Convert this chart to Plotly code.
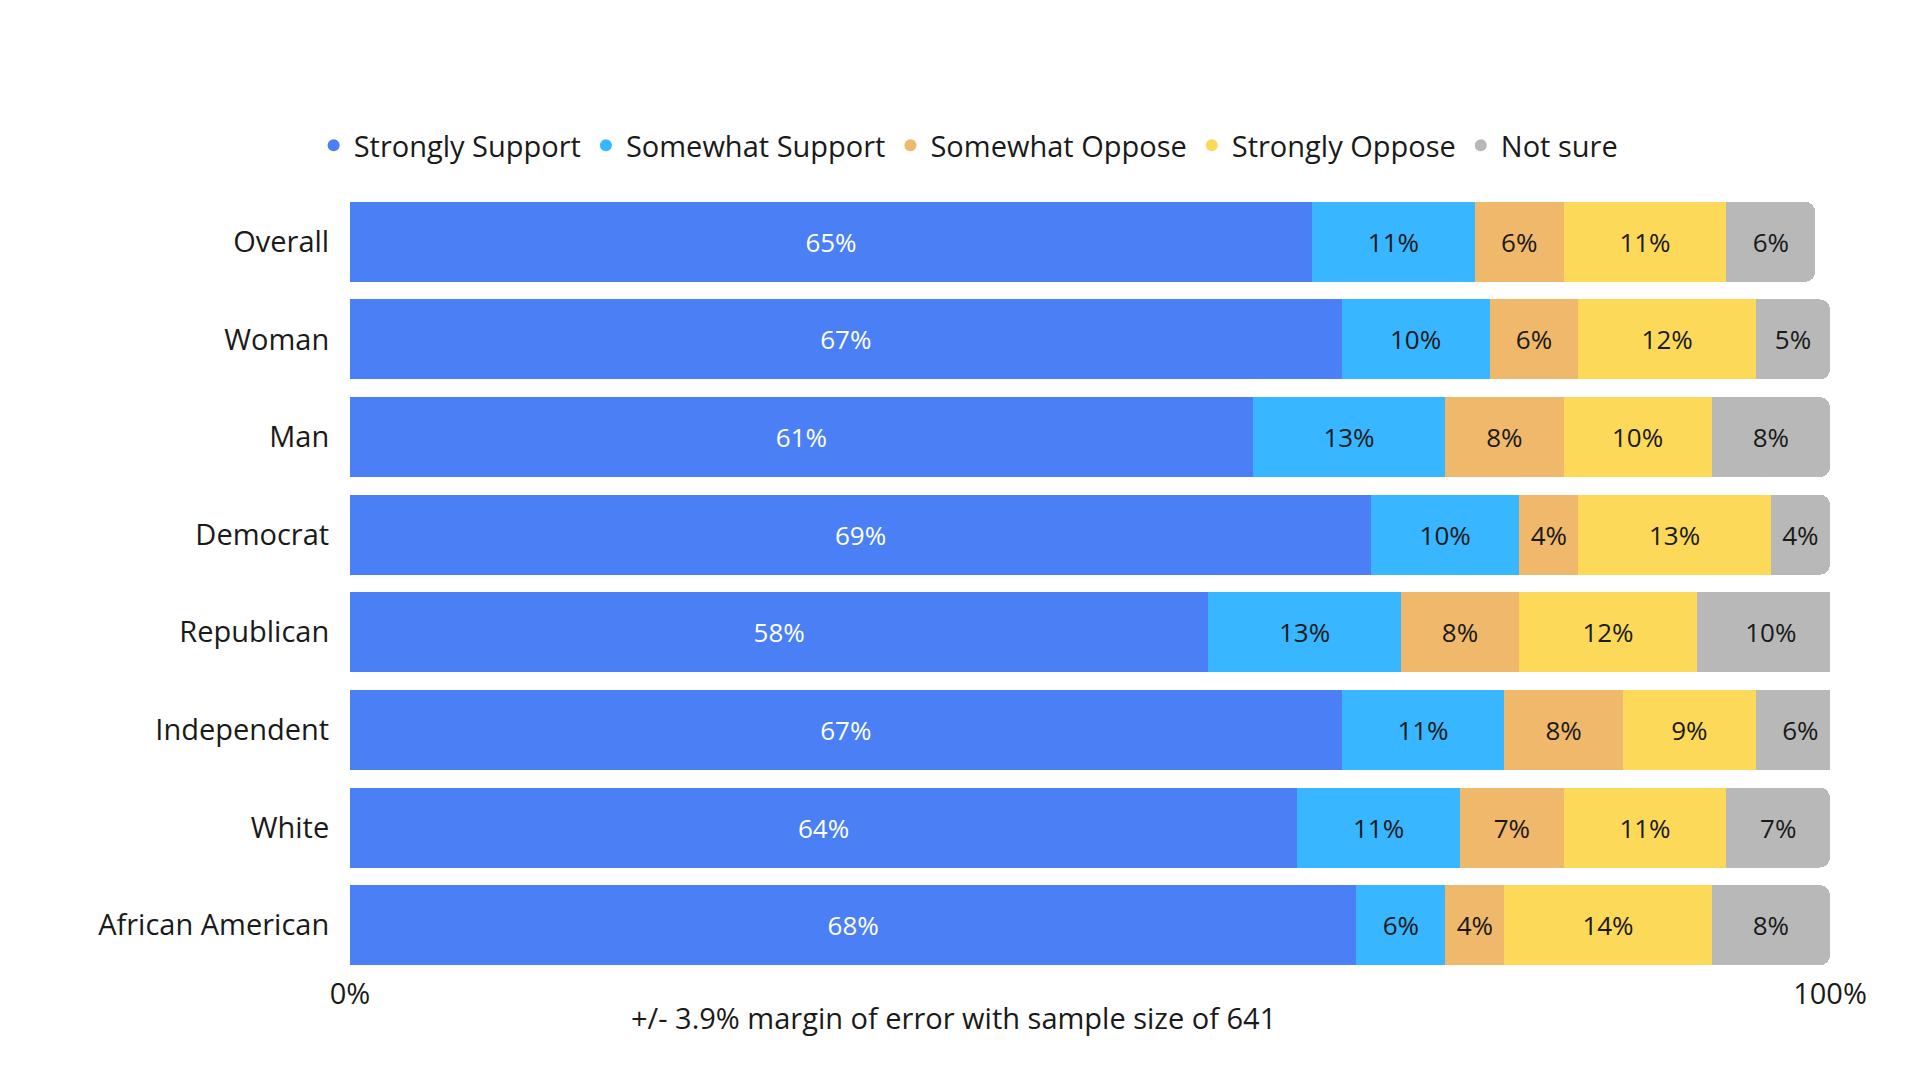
import plotly.graph_objects as go

groups = ["Overall", "Woman", "Man", "Democrat", "Republican", "Independent", "White", "African American"]
strongly_support = [65, 67, 61, 69, 58, 67, 64, 68]
somewhat_support = [11, 10, 13, 10, 13, 11, 11, 6]
somewhat_oppose = [6, 6, 8, 4, 8, 8, 7, 4]
strongly_oppose = [11, 12, 10, 13, 12, 9, 11, 14]
not_sure = [6, 5, 8, 4, 10, 6, 7, 8]

series = [
    ("Strongly Support", strongly_support, "#4a7ff5", "white"),
    ("Somewhat Support", somewhat_support, "#38b6ff", "#1a1a1a"),
    ("Somewhat Oppose", somewhat_oppose, "#f0b86a", "#1a1a1a"),
    ("Strongly Oppose", strongly_oppose, "#fdd95a", "#1a1a1a"),
    ("Not sure", not_sure, "#b8b8b8", "#1a1a1a"),
]

FONT = "Open Sans"
fig = go.Figure()
for name, vals, color, tcolor in series:
    fig.add_trace(go.Bar(
        y=groups, x=vals, orientation="h", name=name, showlegend=False,
        marker=dict(color=color, line=dict(width=0)),
        text=[f"{v}%" for v in vals], textposition="inside", insidetextanchor="middle",
        textfont=dict(family=FONT, size=26, color=tcolor), hoverinfo="skip",
    ))
    # circle markers for the legend
    fig.add_trace(go.Scatter(
        x=[None], y=[None], mode="markers", name=name,
        marker=dict(color=color, size=30, symbol="circle"),
    ))

fig.update_layout(
    barmode="stack", bargap=0.18, barcornerradius=10,
    width=1920, height=1080,
    margin=dict(l=342, r=98, t=185, b=114),
    plot_bgcolor="white", paper_bgcolor="white",
    font=dict(family=FONT, size=29, color="#1a1a1a"),
    legend=dict(orientation="h", x=0.418, xanchor="center", y=1.061, yanchor="middle",
                font=dict(size=29), itemsizing="constant", traceorder="normal"),
    uniformtext=dict(minsize=20, mode="show"),
)
fig.update_yaxes(autorange="reversed", showgrid=False, ticks="outside", ticklen=14,
                 tickcolor="white", tickfont=dict(size=29))
fig.update_xaxes(range=[0, 100], tickvals=[0, 100], ticktext=["0%", "100%"],
                 showgrid=False, zeroline=False, tickfont=dict(size=29))
fig.add_annotation(text="+/- 3.9% margin of error with sample size of 641",
                   xref="paper", yref="paper", x=0.408, y=-0.083,
                   showarrow=False, font=dict(size=29))

fig.write_html("out.html")
